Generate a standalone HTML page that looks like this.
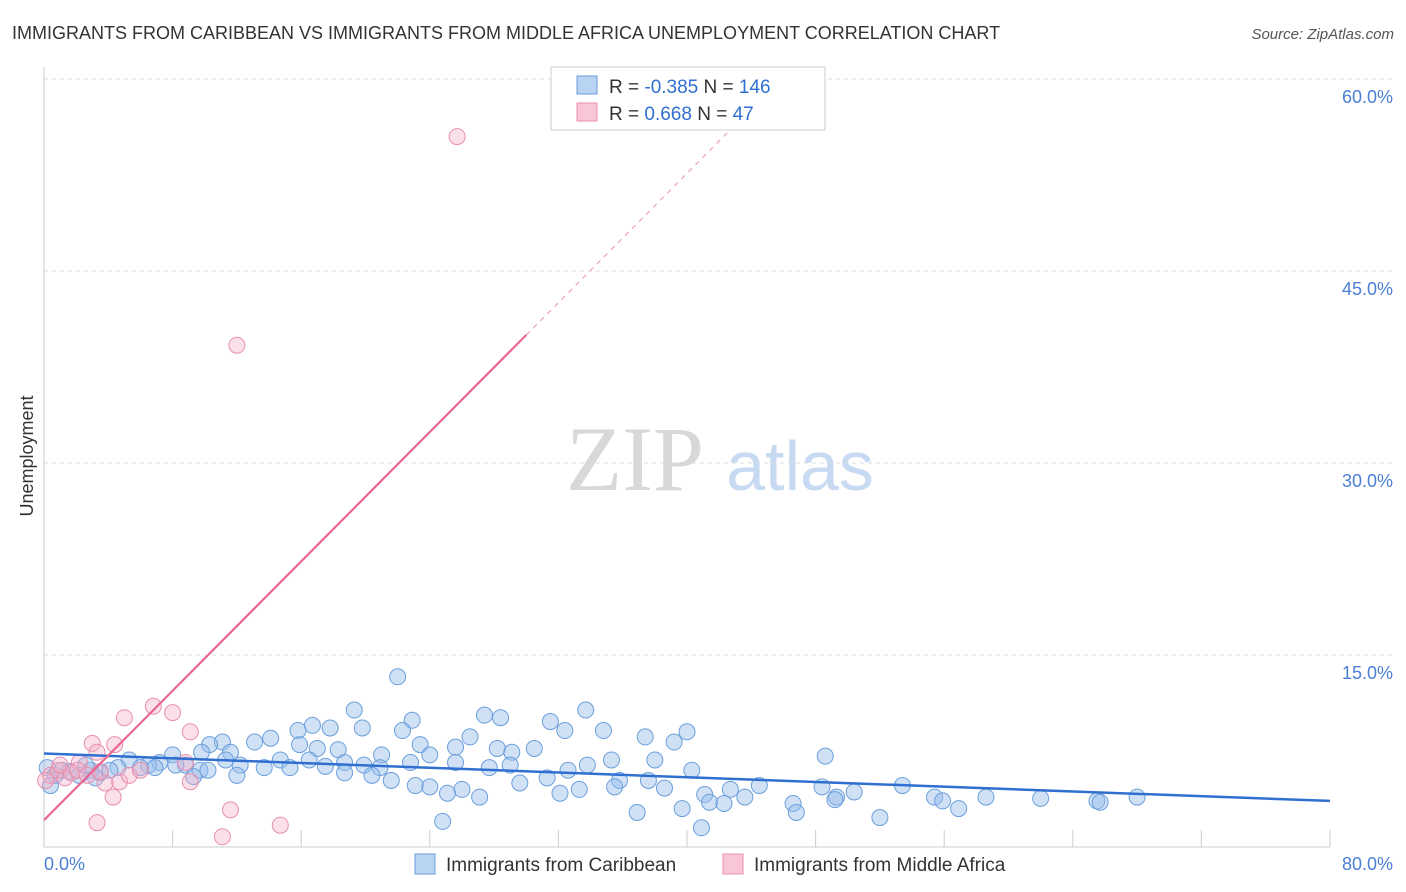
<!DOCTYPE html>
<html><head><meta charset="utf-8"><style>
body{margin:0;background:#fff;font-family:"Liberation Sans",sans-serif}
svg{display:block}
</style></head><body>
<svg width="1406" height="892" viewBox="0 0 1406 892">
<text x="12" y="39" font-size="18" fill="#333">IMMIGRANTS FROM CARIBBEAN VS IMMIGRANTS FROM MIDDLE AFRICA UNEMPLOYMENT CORRELATION CHART</text>
<text x="1394" y="39" font-size="15" fill="#555" font-style="italic" text-anchor="end">Source: ZipAtlas.com</text>
<g>
<text x="635" y="490" font-size="92" fill="#d8d8d8" font-family="Liberation Serif,serif" text-anchor="middle">ZIP</text>
<text x="800" y="490" font-size="70" fill="#c8daf2" text-anchor="middle">atlas</text>
</g>
<g id="grid"></g>
<g id="axes"></g>
<g id="marks"></g>
<text transform="translate(33,456) rotate(-90)" font-size="18" fill="#333" text-anchor="middle">Unemployment</text>
<text x="44" y="870" font-size="18" fill="#4a7fd6">0.0%</text>
<text x="1393" y="870" font-size="18" fill="#4a7fd6" text-anchor="end">80.0%</text>
<g>
<rect x="551" y="67" width="274" height="63" fill="#fff" stroke="#ccc"/>
<rect x="577" y="76" width="20" height="18" fill="#b9d3f3" stroke="#6a9fdc"/>
<rect x="577" y="103" width="20" height="18" fill="#f9c6d6" stroke="#e890ad"/>
<text x="609" y="93" font-size="19" fill="#333">R = <tspan fill="#2f6fd0">-0.385</tspan>   N = <tspan fill="#2f6fd0">146</tspan></text>
<text x="609" y="120" font-size="19" fill="#333">R =  <tspan fill="#2f6fd0"> 0.668</tspan>   N =  <tspan fill="#2f6fd0"> 47</tspan></text>
</g>
<g>
<rect x="415" y="854" width="20" height="20" fill="#b9d3f3" stroke="#6a9fdc"/>
<text x="446" y="871" font-size="19" fill="#333">Immigrants from Caribbean</text>
<rect x="723" y="854" width="20" height="20" fill="#f9c6d6" stroke="#e890ad"/>
<text x="754" y="871" font-size="19" fill="#333">Immigrants from Middle Africa</text>
</g>
</svg>
<script>
const yTicks=[15,30,45,60];
const yTickLabels=["15.0%","30.0%","45.0%","60.0%"];
const xTicks=[0,8,16,24,32,40,48,56,64,72,80];
const blueX=[22.0,33.7,19.3,27.4,28.4,22.9,31.5,15.8,16.7,17.8,19.8,22.3,26.5,32.4,34.8,37.4,40.0,39.2,14.1,13.1,11.1,10.3,15.9,17.0,18.3,23.4,25.6,28.2,30.5,24.0,29.1,8.0,11.6,9.8,21.0,48.6,7.2,5.3,6.5,8.8,12.2,14.7,16.5,18.7,19.9,22.8,25.6,29.0,35.3,38.0,33.8,4.6,9.7,13.7,15.3,17.5,20.9,27.7,32.6,40.3,12.0,18.7,20.4,21.6,31.3,35.8,37.6,9.3,23.1,24.0,29.6,38.6,44.5,48.4,53.4,25.1,26.0,27.1,32.1,33.3,35.5,41.1,42.7,43.6,41.4,42.3,46.6,49.3,50.4,55.4,55.9,56.9,58.6,62.0,65.5,65.7,68.0,39.7,46.8,36.9,52.0,40.9,24.8,49.2,0.2,0.7,1.1,1.6,2.2,2.9,3.5,4.1,0.4,2.6,3.2,6.0,6.9,8.2,10.2,11.3];
const blueY=[13.3,10.7,10.7,10.3,10.1,9.9,9.8,9.1,9.5,9.3,9.3,9.1,8.6,9.1,9.1,8.6,9.0,8.2,8.5,8.2,8.2,8.0,8.0,7.7,7.6,8.0,7.8,7.7,7.7,7.2,7.4,7.2,7.4,7.4,7.2,7.1,6.6,6.8,6.4,6.4,6.4,6.8,6.8,6.6,6.4,6.6,6.6,6.4,6.8,6.8,6.4,6.2,6.0,6.2,6.2,6.3,6.2,6.2,6.0,6.0,5.6,5.8,5.6,5.2,5.4,5.2,5.2,5.5,4.8,4.7,5.0,4.6,4.8,4.7,4.8,4.2,4.5,3.9,4.2,4.5,4.7,4.1,4.5,3.9,3.5,3.4,3.4,3.9,4.3,3.9,3.6,3.0,3.9,3.8,3.6,3.5,3.9,3.0,2.7,2.7,2.3,1.5,2.0,3.7,6.2,5.6,6.0,5.9,5.6,6.0,5.8,6.0,4.8,6.4,5.4,6.2,6.2,6.4,6.0,6.8];
const pinkX=[25.7,12.0,6.8,8.0,5.0,9.1,3.0,4.4,3.3,2.2,8.8,4.7,3.8,9.1,4.3,11.6,3.3,14.7,11.1,0.4,0.9,1.3,1.7,2.1,2.7,3.5,5.3,6.0,1.0,0.1];
const pinkY=[55.5,39.2,11.0,10.5,10.1,9.0,8.1,8.0,7.4,6.6,6.6,5.1,5.0,5.1,3.9,2.9,1.9,1.7,0.8,5.6,6.0,5.4,5.8,6.0,5.6,5.9,5.6,6.0,6.4,5.2];
const blueTrend=[7.3,3.6];   // y at x=0 and x=80
const pinkTrend=[2.1,40.0,60.0]; // y at x=0, y at x=30 (solid end)
const NS="http://www.w3.org/2000/svg";
const X=v=>44+v/80*1286, Y=v=>847-v/15*192;
function mk(tag,at,parent){const e=document.createElementNS(NS,tag);for(const k in at)e.setAttribute(k,at[k]);parent.appendChild(e);return e;}
const grid=document.getElementById('grid'),axes=document.getElementById('axes'),marks=document.getElementById('marks');
yTicks.forEach((t,i)=>{
 const l=mk('line',{x1:44,x2:1394,y1:Y(t),y2:Y(t),stroke:'#ddd','stroke-dasharray':'4,4'},grid);
 
 
 const tx=mk('text',{x:1393,y:Y(t)+24,'font-size':18,fill:'#4a7fd6','text-anchor':'end'},axes);
 tx.textContent=yTickLabels[i];
 
 
});
const ya=mk('line',{x1:44,x2:44,y1:67,y2:847,stroke:'#ccc'},axes);


const xa=mk('line',{x1:44,x2:1330,y1:847,y2:847,stroke:'#ccc'},axes);


xTicks.forEach(t=>{
 const l=mk('line',{x1:X(t),x2:X(t),y1:830,y2:847,stroke:'#ccc'},axes);
 
 
});
blueX.forEach((v,i)=>{
 const c=mk('circle',{cx:X(v),cy:Y(blueY[i]),r:8,fill:'rgba(150,188,235,0.45)',stroke:'#6a9fdc','stroke-width':1},marks);
 
 
});
pinkX.forEach((v,i)=>{
 const c=mk('circle',{cx:X(v),cy:Y(pinkY[i]),r:8,fill:'rgba(245,175,200,0.4)',stroke:'#e890ad','stroke-width':1},marks);
 
 
});
const bt=mk('line',{x1:X(0),y1:Y(blueTrend[0]),x2:X(80),y2:Y(blueTrend[1]),stroke:'#2f6fd0','stroke-width':2.5},marks);


const slope=(pinkTrend[1]-pinkTrend[0])/30;
const pt=mk('line',{x1:X(0),y1:Y(pinkTrend[0]),x2:X(30),y2:Y(pinkTrend[1]),stroke:'#ea6592','stroke-width':2.2},marks);


const xe=(pinkTrend[2]-pinkTrend[0])/slope;
const pd=mk('line',{x1:X(30),y1:Y(pinkTrend[1]),x2:X(xe),y2:Y(pinkTrend[2]),stroke:'#f0a0ba','stroke-width':1.2,'stroke-dasharray':'5,5'},marks);


</script>
</body></html>
